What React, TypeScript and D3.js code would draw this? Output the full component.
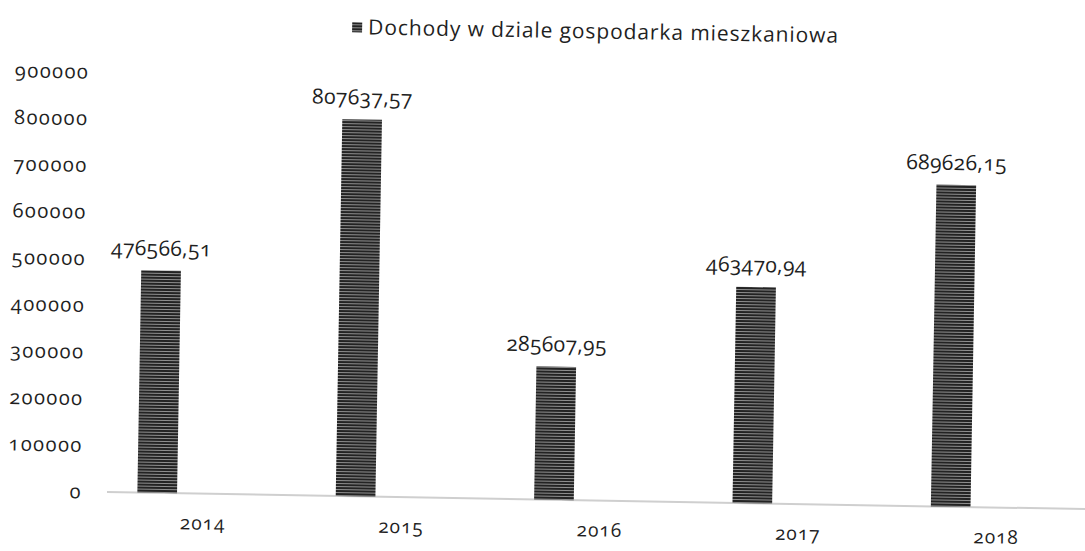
import React from "react";
import * as d3 from "d3";

const categories: string[] = ["2014", "2015", "2016", "2017", "2018"];
const values: number[] = [476566.51, 807637.57, 285607.95, 463470.94, 689626.15];
const yTicks: number[] = [0, 100000, 200000, 300000, 400000, 500000, 600000, 700000, 800000, 900000];
const seriesName = "Dochody w dziale gospodarka mieszkaniowa";

const W = 1085;
const H = 551;
const FONT = "'Open Sans', 'Noto Sans', sans-serif";
const TEXT = "#1f1f1f";

const fmt = d3
  .formatLocale({ decimal: ",", thousands: "", grouping: [3], currency: ["", ""] })
  .format(".2f");

export default function App() {
  const y = d3.scaleLinear().domain([0, 900000]).range([492, 72]);
  const xBar = d3
    .scaleBand<string>()
    .domain(categories)
    .range([58, 1050])
    .paddingInner(0.8)
    .paddingOuter(0.4);
  const xLab = d3.scaleBand<string>().domain(categories).range([104, 1096]);

  const numStyle: React.CSSProperties = {
    fontVariantNumeric: "oldstyle-nums",
    fontFeatureSettings: "'onum' 1",
  };

  return (
    <svg
      width={W}
      height={H}
      style={{ position: "absolute", left: 0, top: 0, background: "#fff" }}
      fontFamily={FONT}
    >
      <defs>
        <pattern id="hatch" width="6" height="3" patternUnits="userSpaceOnUse">
          <rect width="6" height="3" fill="#8f8f8f" />
          <rect width="6" height="2" fill="#232323" />
        </pattern>
      </defs>
      <rect width={W} height={H} fill="#fff" />
      <g transform="rotate(1, 107, 492)">
        {/* legend / title */}
        <rect x={344} y={18} width={10} height={10} fill="url(#hatch)" />
        <text x={360} y={30} fontSize={21} letterSpacing={0.9} fill={TEXT}>
          {seriesName}
        </text>

        {/* y axis labels */}
        {yTicks.map((t) => (
          <text
            key={t}
            x={82}
            y={y(t)}
            dy="0.35em"
            textAnchor="end"
            fontSize={20}
            letterSpacing={1.5}
            fill={TEXT}
            style={numStyle}
          >
            {String(t)}
          </text>
        ))}

        {/* baseline */}
        <line x1={107} x2={1100} y1={y(0)} y2={y(0)} stroke="#cfcfcf" strokeWidth={2} />

        {/* bars */}
        {categories.map((c, i) => (
          <rect
            key={c}
            x={xBar(c)!}
            y={y(values[i])}
            width={xBar.bandwidth()}
            height={y(0) - y(values[i])}
            fill="url(#hatch)"
          />
        ))}

        {/* value labels */}
        {categories.map((c, i) => (
          <text
            key={c}
            x={xBar(c)! + xBar.bandwidth() / 2}
            y={y(values[i]) - 15}
            textAnchor="middle"
            fontSize={21}
            letterSpacing={0.4}
            fill={TEXT}
            style={numStyle}
          >
            {fmt(values[i])}
          </text>
        ))}

        {/* category labels */}
        {categories.map((c) => (
          <text
            key={c}
            x={xLab(c)! + xLab.bandwidth() / 2}
            y={528}
            textAnchor="middle"
            fontSize={19}
            letterSpacing={1}
            fill={TEXT}
            style={numStyle}
          >
            {c}
          </text>
        ))}
      </g>
    </svg>
  );
}
